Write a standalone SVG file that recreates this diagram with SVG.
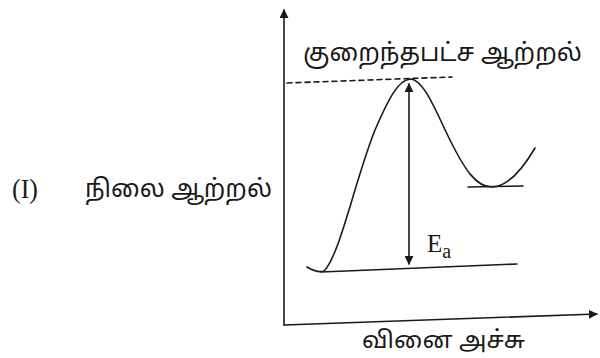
<svg xmlns="http://www.w3.org/2000/svg" width="600" height="358" viewBox="0 0 600 358">
<style>
.ln{fill:none;stroke:#1a1a1a;stroke-width:1.6;stroke-linecap:round}
.ta{font-family:"Noto Sans Tamil","Noto Sans","Liberation Sans",sans-serif;fill:#1a1a1a}
.se{font-family:"Liberation Serif",serif;fill:#1a1a1a}
</style>
<defs>
<marker id="ah" viewBox="0 0 10 10" refX="9" refY="5" markerWidth="9" markerHeight="9" markerUnits="userSpaceOnUse" orient="auto-start-reverse">
<path d="M0,0 L10,5 L0,10 Z" fill="#1a1a1a"/>
</marker>
</defs>
<rect width="600" height="358" fill="#ffffff"/>
<g id="connectors">
<line id="y-axis" class="ln" x1="284" y1="325" x2="284" y2="10" marker-end="url(#ah)"/>
<line id="x-axis" class="ln" x1="284" y1="325" x2="597" y2="314" marker-end="url(#ah)"/>
<line id="ts-level" class="ln" x1="287" y1="83" x2="452" y2="77" stroke-dasharray="5,4"/>
<line id="ea-arrow" class="ln" x1="409" y1="84" x2="409" y2="264" marker-start="url(#ah)" marker-end="url(#ah)"/>
</g>
<g id="curve">
<path class="ln" d="M307,267 C312,270 318,273 324,271 C340,255 355,180 375,130 C388,100 398,80 410,79 C424,79 436,112 450,140 C464,168 476,188 493,187 C510,186 525,165 535,148"/>
<line class="ln" x1="321" y1="272" x2="517" y2="264"/>
<line class="ln" x1="468" y1="187" x2="523" y2="186"/>
</g>
<g id="labels">
<text class="ta" x="303" y="61" font-size="25" textLength="279" lengthAdjust="spacingAndGlyphs">குறைந்தபட்ச ஆற்றல்</text>
<text class="se" x="12" y="198" font-size="28" textLength="26" lengthAdjust="spacingAndGlyphs">(I)</text>
<text class="ta" x="85" y="197" font-size="25" textLength="187" lengthAdjust="spacingAndGlyphs">நிலை ஆற்றல்</text>
<text class="ta" x="362" y="348" font-size="24" textLength="163" lengthAdjust="spacingAndGlyphs">வினை அச்சு</text>
<text class="se" x="427" y="252" font-size="25">E<tspan font-size="20" dy="6">a</tspan></text>
</g>
</svg>
